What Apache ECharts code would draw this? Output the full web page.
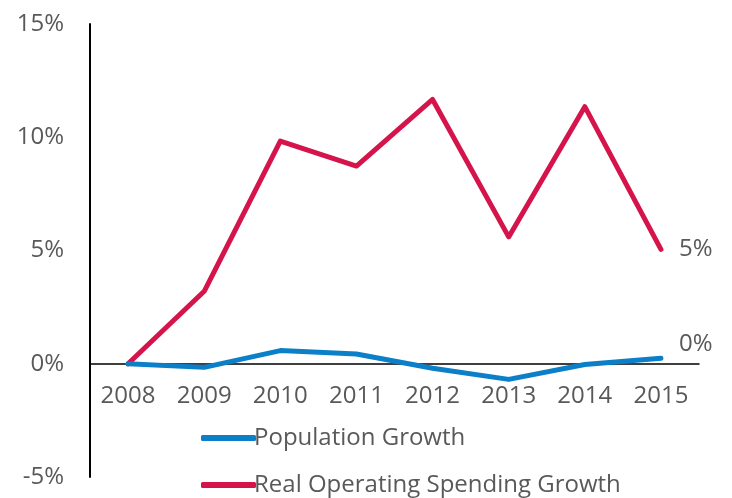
<!DOCTYPE html>
<html>
<head>
<meta charset="utf-8">
<script src="https://cdn.jsdelivr.net/npm/echarts@6/dist/echarts.min.js"></script>
<style>html,body{margin:0;padding:0;background:#fff}#c{width:732px;height:498px}</style>
</head>
<body>
<div id="c"></div>
<script>
var years = ['2008','2009','2010','2011','2012','2013','2014','2015'];
var populationGrowth = [0, -0.16, 0.58, 0.43, -0.2, -0.69, -0.03, 0.24];
var spendingGrowth = [0, 3.2, 9.83, 8.73, 11.67, 5.6, 11.35, 5.05];
var yTicks = [-5, 0, 5, 10, 15];
var endLabels = ['0%', '5%'];

var FONT = "'Open Sans', 'Noto Sans', sans-serif";
var TXT = '#595959';
var BLUE = '#0C7FC9';
var RED = '#D4144A';
var FS = 24;

var W = 732, H = 498;
var G = { left: 90, right: 33, top: 24, bottom: 21 };
var yMin = yTicks[0], yMax = yTicks[yTicks.length - 1];
var gridH = H - G.top - G.bottom;
var zeroOffset = -gridH * (0 - yMin) / (yMax - yMin);

function legendCfg(name, top) {
  return {
    orient: 'horizontal', left: 196, top: top,
    icon: 'roundRect', itemWidth: 55, itemHeight: 6,
    textStyle: { color: TXT, fontFamily: FONT, fontSize: FS, lineHeight: 30, padding: [0, 0, 0, -7] },
    data: [name]
  };
}

var chart = echarts.init(document.getElementById('c'));
chart.setOption({
  animation: false,
  grid: { left: G.left, right: G.right, top: G.top, bottom: G.bottom, containLabel: false, outerBoundsMode: 'none' },
  legend: [
    legendCfg('Population Growth', 418),
    legendCfg('Real Operating Spending Growth', 465)
  ],
  xAxis: {
    type: 'category', data: years, boundaryGap: true,
    position: 'bottom', offset: zeroOffset,
    axisLine: { onZero: false, lineStyle: { color: '#000', width: 1.5 } },
    axisTick: { show: false },
    axisLabel: { color: TXT, fontFamily: FONT, fontSize: FS, margin: 20 }
  },
  yAxis: {
    type: 'value', min: yMin, max: yMax, interval: 5,
    axisLine: { show: true, lineStyle: { color: '#000', width: 2 } },
    axisTick: { show: false },
    splitLine: { show: false },
    axisLabel: { color: TXT, fontFamily: FONT, fontSize: FS, margin: 26, formatter: '{value}%' }
  },
  series: [
    {
      name: 'Real Operating Spending Growth', type: 'line', data: spendingGrowth,
      symbol: 'none', color: RED,
      lineStyle: { width: 5, color: RED, cap: 'round', join: 'round' },
      endLabel: { show: true, formatter: endLabels[1], offset: [10, 0], color: TXT, fontFamily: FONT, fontSize: FS }
    },
    {
      name: 'Population Growth', type: 'line', data: populationGrowth,
      symbol: 'none', color: BLUE,
      lineStyle: { width: 5, color: BLUE, cap: 'round', join: 'round' },
      endLabel: { show: true, formatter: endLabels[0], offset: [10, -14], color: TXT, fontFamily: FONT, fontSize: FS }
    }
  ]
});
</script>
</body>
</html>
